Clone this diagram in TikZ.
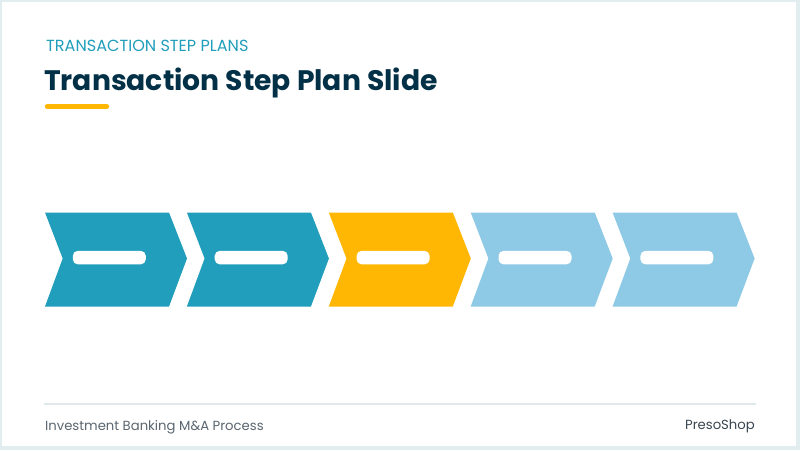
\documentclass[tikz,border=0pt]{standalone}
\usepackage{fontspec}
\setmainfont{Poppins}
\definecolor{teal}{HTML}{219EBC}
\definecolor{navy}{HTML}{023047}
\definecolor{gold}{HTML}{FFB703}
\definecolor{sky}{HTML}{8ECAE6}
\definecolor{frame}{HTML}{E2EDF0}
\definecolor{rule}{HTML}{E1E8EC}
\definecolor{foot}{HTML}{5B6670}
\definecolor{brand}{HTML}{3A4650}
\begin{document}
\begin{tikzpicture}[x=1pt,y=-1pt,
  pill/.style={fill=white,rounded corners=5pt,minimum width=73pt,minimum height=13.5pt,inner sep=0pt}]
\useasboundingbox (0,0) rectangle (800,450);
\fill[frame] (0,0) rectangle (800,450);
\fill[white] (2,1.5) rectangle (796,445.5);
% header
\node[anchor=base west,inner sep=0pt,text=teal,font=\fontsize{16.1}{18}\selectfont] (sub) at (46,51) {TRANSACTION STEP PLANS};
\node[anchor=base west,inner sep=0pt,text=navy,font=\fontsize{28.2}{32}\selectfont\bfseries] (title) at (44,90) {Transaction Step Plan Slide};
\coordinate (ulA) at (47.5,106.6);
\coordinate (ulB) at (106.5,106.6);
\draw[gold,line width=5.5pt,line cap=round] (ulA) -- (ulB);
% chevrons
\foreach \i/\c in {0/teal,1/teal,2/gold,3/sky,4/sky}{
  \pgfmathsetmacro{\L}{45+141.9*\i}
  \fill[\c] (\L,212.5) -- (\L+124,212.5) -- (\L+142,258.5) -- (\L+124,306.5) -- (\L,306.5) -- (\L+17.7,258.5) -- cycle;
  \node[pill] (p\i) at (\L+64.3,257.6) {};
}
% footer
\coordinate (fA) at (44,404);
\coordinate (fB) at (756,404);
\draw[rule,line width=2pt] (fA) -- (fB);
\node[anchor=base west,inner sep=0pt,text=foot,font=\fontsize{13.2}{15}\selectfont] (ft) at (45,430) {Investment Banking M\&A Process};
\node[anchor=base east,inner sep=0pt,text=brand,font=\fontsize{13.2}{15}\selectfont] (brand) at (755,429.5) {PresoShop};
\end{tikzpicture}
\end{document}
